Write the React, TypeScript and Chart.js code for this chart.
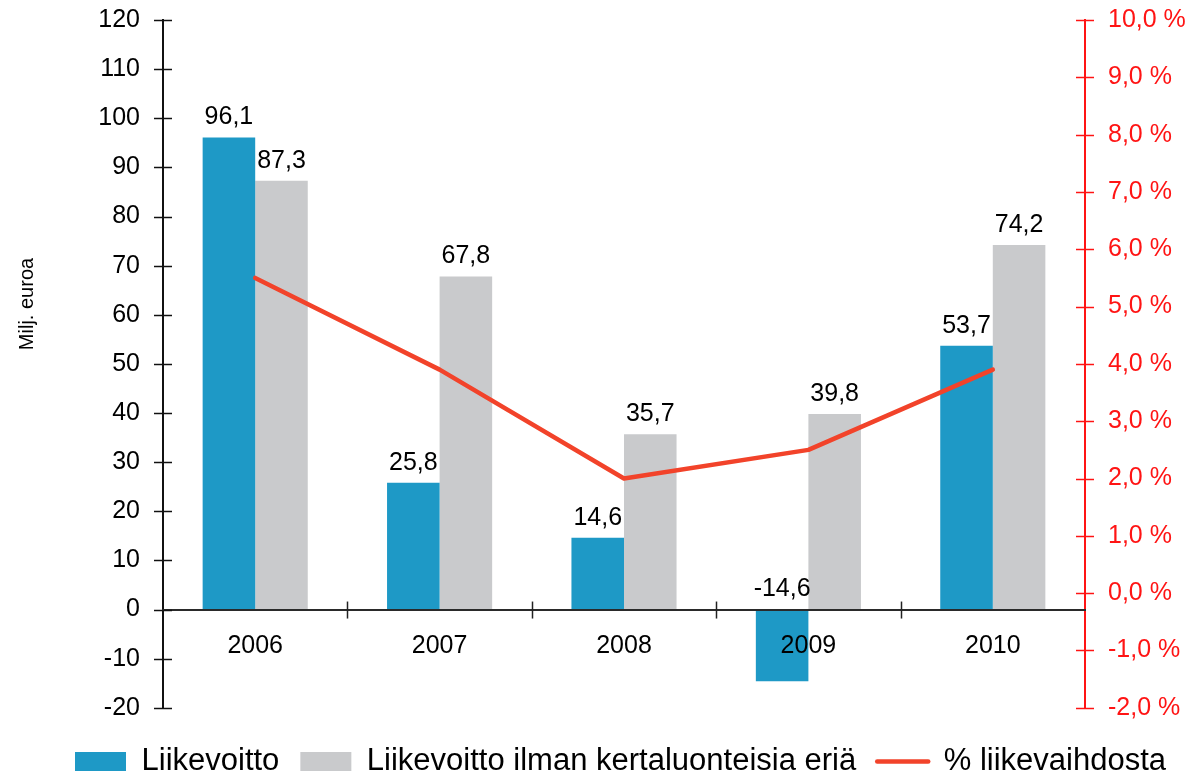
import React, { useEffect, useRef } from "react";
import { Chart, registerables } from "chart.js";

Chart.register(...registerables);

const categories = ["2006", "2007", "2008", "2009", "2010"];
const liikevoitto = [96.1, 25.8, 14.6, -14.6, 53.7];
const ilmanKertaluonteisia = [87.3, 67.8, 35.7, 39.8, 74.2];
const liikevaihdostaPct = [5.5, 3.9, 2.0, 2.5, 3.9];
const seriesNames = ["Liikevoitto", "Liikevoitto ilman kertaluonteisia eriä", "% liikevaihdosta"];
const yAxisTitle = "Milj. euroa";

const FONT = "'Liberation Sans', Arial, sans-serif";
const BLUE = "#1e99c6";
const GRAY = "#c9cacc";
const LINE = "#f2432a";
const RED = "#ff1414";

const fmt = (v: number) => v.toFixed(1).replace(".", ",");

const overlayPlugin = {
  id: "overlay",
  afterDatasetsDraw(chart: any) {
    const { ctx } = chart;
    ctx.save();
    ctx.font = `25px ${FONT}`;
    ctx.fillStyle = "#000";
    ctx.textAlign = "center";
    ctx.textBaseline = "middle";
    [0, 1].forEach((di) => {
      const meta = chart.getDatasetMeta(di);
      const vals = chart.data.datasets[di].data as number[];
      meta.data.forEach((bar: any, i: number) => {
        const top = Math.min(bar.y, bar.base);
        ctx.fillText(fmt(vals[i]), bar.x, top - 20);
      });
    });
    ctx.restore();
  },
  afterDraw(chart: any) {
    const { ctx, chartArea } = chart;
    const x = chart.scales.x;
    const y = chart.scales.y;
    const y1 = chart.scales.y1;
    ctx.save();
    ctx.lineWidth = 1.5;
    ctx.strokeStyle = "#111";
    y.ticks.forEach((t: any) => {
      const py = Math.round(y.getPixelForValue(t.value)) + 0.5;
      ctx.beginPath();
      ctx.moveTo(chartArea.left - 9, py);
      ctx.lineTo(chartArea.left + 9, py);
      ctx.stroke();
    });
    ctx.strokeStyle = RED;
    y1.ticks.forEach((t: any) => {
      const py = Math.round(y1.getPixelForValue(t.value)) + 0.5;
      ctx.beginPath();
      ctx.moveTo(chartArea.right - 9, py);
      ctx.lineTo(chartArea.right + 9, py);
      ctx.stroke();
    });
    ctx.strokeStyle = "#222";
    const y0 = y.getPixelForValue(0);
    for (let i = 0; i < categories.length - 1; i++) {
      const px = Math.round((x.getPixelForValue(i) + x.getPixelForValue(i + 1)) / 2) + 0.5;
      ctx.beginPath();
      ctx.moveTo(px, y0 - 8);
      ctx.lineTo(px, y0 + 9);
      ctx.stroke();
    }
    ctx.font = `20px ${FONT}`;
    ctx.fillStyle = "#000";
    ctx.textAlign = "center";
    ctx.textBaseline = "alphabetic";
    ctx.translate(33, 304);
    ctx.rotate(-Math.PI / 2);
    ctx.fillText(yAxisTitle, 0, 0);
    ctx.restore();
  },
};

export default function App() {
  const ref = useRef<HTMLCanvasElement | null>(null);

  useEffect(() => {
    document.body.style.margin = "0";
    document.documentElement.style.overflow = "hidden";
    if (!ref.current) return;
    const chart = new Chart(ref.current, {
      type: "bar",
      data: {
        labels: categories,
        datasets: [
          {
            label: seriesNames[0],
            data: liikevoitto,
            backgroundColor: BLUE,
            borderWidth: 0,
            yAxisID: "y",
            order: 1,
            categoryPercentage: 0.57,
            barPercentage: 1.0,
          },
          {
            label: seriesNames[1],
            data: ilmanKertaluonteisia,
            backgroundColor: GRAY,
            borderWidth: 0,
            yAxisID: "y",
            order: 1,
            categoryPercentage: 0.57,
            barPercentage: 1.0,
          },
          {
            type: "line",
            label: seriesNames[2],
            data: liikevaihdostaPct,
            borderColor: LINE,
            backgroundColor: LINE,
            borderWidth: 4.5,
            pointRadius: 0,
            tension: 0,
            borderCapStyle: "round",
            borderJoinStyle: "round",
            yAxisID: "y1",
            order: 0,
          } as any,
        ],
      },
      options: {
        responsive: false,
        animation: false,
        layout: { padding: { left: 54, right: 0, top: 20, bottom: -10 } },
        scales: {
          x: {
            position: { y: 0 } as any,
            grid: { display: false, drawTicks: false },
            border: { display: true, color: "#2a2a2a", width: 2, z: 1 } as any,
            ticks: { color: "#000", font: { family: FONT, size: 25 }, padding: 22, z: 1 } as any,
          },
          y: {
            position: "left",
            min: -20,
            max: 120,
            ticks: {
              stepSize: 10,
              color: "#000",
              font: { family: FONT, size: 25 },
              padding: 23,
            },
            grid: { display: false, drawTicks: false },
            border: { display: true, color: "#111", width: 2 },
            afterFit: (s: any) => {
              s.width = 109;
              s.paddingTop = 0;
              s.paddingBottom = 0;
            },
          },
          y1: {
            position: "right",
            min: -2,
            max: 10,
            ticks: {
              stepSize: 1,
              color: RED,
              font: { family: FONT, size: 25 },
              padding: 23,
              callback: (v: any) => fmt(Number(v)) + " %",
            },
            grid: { display: false, drawTicks: false },
            border: { display: true, color: RED, width: 2 },
            afterFit: (s: any) => {
              s.width = 111;
              s.paddingTop = 0;
              s.paddingBottom = 0;
            },
          },
        },
        plugins: {
          tooltip: { enabled: false },
          legend: {
            position: "bottom",
            align: "start",
            title: {
              display: true,
              text: "",
              font: { family: FONT, size: 1 },
              padding: { top: 0, bottom: 16 },
            } as any,
            labels: {
              color: "#000",
              font: { family: FONT, size: 31 },
              usePointStyle: true,
              pointStyleWidth: 51,
              boxHeight: 19,
              padding: 21,
              generateLabels: (ch: any) => {
                const items = (Chart.defaults.plugins.legend.labels as any).generateLabels(ch);
                return items
                  .sort((a: any, b: any) => a.datasetIndex - b.datasetIndex)
                  .map((it: any) => {
                    if (it.datasetIndex === 2) {
                      return {
                        ...it,
                        pointStyle: "line",
                        fillStyle: LINE,
                        strokeStyle: LINE,
                        lineWidth: 4.5,
                        lineCap: "round",
                      };
                    }
                    return {
                      ...it,
                      pointStyle: "rect",
                      lineWidth: 0,
                      strokeStyle: it.fillStyle,
                    };
                  });
              },
            },
          },
        },
      },
      plugins: [overlayPlugin],
    });
    return () => chart.destroy();
  }, []);

  return (
    <div style={{ width: 1196, height: 777 }}>
      <canvas ref={ref} width={1196} height={777} />
    </div>
  );
}
